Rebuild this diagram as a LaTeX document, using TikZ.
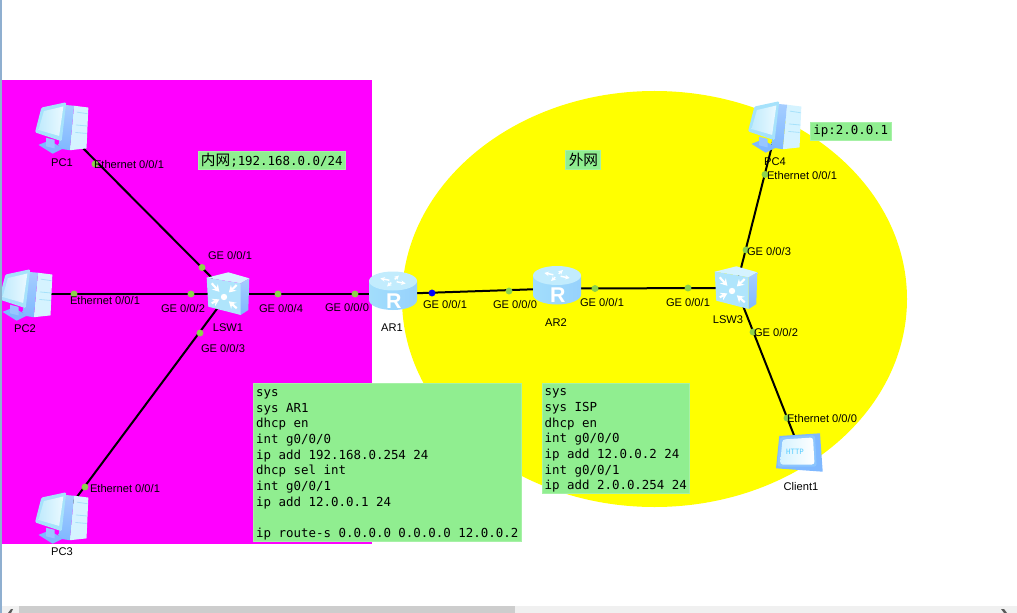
\documentclass[tikz,border=0pt]{standalone}
\usepackage{fontspec}
\setmainfont{Liberation Sans}
\newfontfamily\cfgfont{DejaVu Sans Mono}
\newfontfamily\cjkfont{Noto Sans CJK SC}
\usetikzlibrary{
  arrows.meta,              % 交换机图标的箭头
  calc                      % 坐标计算
}
\definecolor{lanpink}{RGB}{255,0,255}
\definecolor{wanyellow}{RGB}{255,255,0}
\definecolor{portgreen}{HTML}{8CD24A}
\definecolor{portblue}{RGB}{0,0,255}
\definecolor{boxgreen}{HTML}{90EE90}
\definecolor{iconlight}{HTML}{D5F3FF}
\definecolor{iconmid}{HTML}{A6E2FB}
\definecolor{icondark}{HTML}{7FB8FF}
\definecolor{barlight}{HTML}{F0F0F0}
\definecolor{bardark}{HTML}{CDCDCD}
\definecolor{edgeblue}{HTML}{8FAFD0}
\tikzset{
  device/.style={
    rectangle,
    inner sep=0pt,
    minimum size=15pt
  },
  link/.style={
    draw=black,
    line width=1.5pt
  },
  port dot/.style={
    circle,
    fill=portgreen,
    inner sep=0pt,
    minimum size=5.2pt
  },
  port label/.style={
    font=\fontsize{8.35}{10}\selectfont,
    color=black,
    inner sep=0pt,
    yshift=-0.5pt
  },
  note box/.style={
    fill=boxgreen,
    draw=boxgreen!80!white,
    line width=0.4pt,
    anchor=north west,
    inner sep=0pt,
    font=\fontsize{9.33}{11.75}\cfgfont
  },
  pc icon/.pic={
    \begin{scope}[shift={(0,-1)}, x=0.8pt, y=-0.8pt]
      \fill[iconlight] (11.3,-19) -- (24.7,-17.3) -- (23,21) -- (7.3,22.7) -- cycle;
      \shade[top color=icondark!70!white, bottom color=icondark] (3,-19.7) -- (11.3,-19) -- (7.3,22.7) -- (-3.7,21) -- cycle;
      \draw[iconmid, line width=0.6pt] (14,-13) -- (24,-11.5) (13,-1) -- (23.5,0) (12.5,6) -- (23,7);
      \fill[icondark] (-22,17.7) -- (-12,13.7) -- (1.3,21) -- (-8.7,26) -- cycle;
      \fill[icondark!80!white] (-15,11) -- (-7,13) -- (-7,21) -- (-15,19) -- cycle;
      \fill[iconmid, rounded corners=1pt] (-19.3,-17.3) -- (4,-22.3) -- (-0.3,14.3) -- (-25.3,6) -- cycle;
      \shade[left color=iconmid!70!white, right color=iconlight!50!white] (-17,-14) -- (1.3,-18.3) -- (-2.7,9.3) -- (-22,3.7) -- cycle;
    \end{scope}
  },
  router icon/.pic={
    \shade[left color=iconmid!90!icondark, middle color=iconmid!70!white, right color=iconmid!60!icondark] (-24,-13) -- (-24,6) arc[start angle=180, end angle=360, x radius=24, y radius=-10] -- (24,-13) -- cycle;
    \fill[iconmid!40!iconlight] (0,-13) ellipse[x radius=24, y radius=9.5];
    \foreach \a in {25,115,205,295}{
      \draw[white, line width=1.1pt, -{Stealth[length=3.5pt, width=3.5pt]}] ([shift={(\a:4 and 1.8)}]0,-13) -- ([shift={(\a:14 and 6)}]0,-13);
    }
    \node[font=\fontsize{16}{16}\bfseries\selectfont, color=white, inner sep=0pt] (letter) at (0.7,7) {R};
  },
  switch icon/.pic={
    \fill[iconlight] (-21.3,-16.3) -- (0.3,-21.7) -- (21.3,-15.7) -- (12.7,-10.7) -- cycle;
    \shade[top color=icondark!70!white, bottom color=icondark] (12.7,-10.7) -- (21.3,-15.7) -- (20.3,16) -- (12.7,21) -- cycle;
    \fill[iconmid!80!iconlight] (-21.3,-16.3) -- (12.7,-10.7) -- (12.7,21) -- (-19.7,12.7) -- cycle;
    \fill[white] (-4,3) circle[radius=3.2];
    \foreach \sx/\sy in {-16.3/-10.7, 8.7/-9, -16.3/9.3, 8.7/14.3}{
      \draw[white, line width=1.6pt, -{Stealth[length=5pt, width=6pt]}] (\sx,\sy) -- ($(\sx,\sy)!0.62!(-4,3)$);
    }
  },
  client icon/.pic={
    \fill[icondark] (-21.7,-17) -- (19,-19.7) -- (21.7,18.7) -- (-25,15.3) -- cycle;
    \fill[icondark!70!iconmid, rounded corners=2pt] (-21,-15.7) -- (14,-18) -- (15.7,13.7) -- (-23.7,13.7) -- cycle;
    \shade[left color=iconlight, right color=white, rounded corners=2pt] (-18.5,-13.5) -- (12,-15.5) -- (13.5,11.5) -- (-21,11.5) -- cycle;
    \node[font=\fontsize{5.5}{6}\cfgfont, color=icondark!70!cyan, inner sep=0pt] (word) at (-6,-1.3) {HTTP};
  }
}

\begin{document}
\begin{tikzpicture}[x=0.75pt, y=-0.75pt]
    \useasboundingbox (0,0) rectangle (1017,613);

    % 1. 背景区域
    \fill[lanpink] (2,80) rectangle (372,544);
    \fill[wanyellow] (654.5,299) ellipse[x radius=252.5, y radius=208];

    % 2. 设备节点
    \node[device] (PC1) at (62,127) {};
    \node[device] (PC2) at (26,294) {};
    \node[device] (PC3) at (62,517) {};
    \node[device] (PC4) at (777,126) {};
    \node[device] (LSW1) at (228,294) {};
    \node[device] (LSW3) at (736,288) {};
    \node[device] (AR1) at (393,294) {};
    \node[device] (AR2) at (557,288.5) {};
    \node[device] (Client1) at (801,453) {};

    % 3. 连线
    \draw[link] (PC1) -- (LSW1);
    \draw[link] (PC2) -- (LSW1);
    \draw[link] (PC3) -- (LSW1);
    \draw[link] (LSW1) -- (AR1);
    \draw[link] (AR1) -- (AR2);
    \draw[link] (AR2) -- (LSW3);
    \draw[link] (LSW3) -- (PC4);
    \draw[link] (LSW3) -- (Client1);

    % 4. 端口圆点
    \node[port dot] (p1) at (95,164) {};
    \node[port dot] (p2) at (202,267.5) {};
    \node[port dot] (p3) at (74,294) {};
    \node[port dot] (p4) at (191,294) {};
    \node[port dot] (p5) at (200,333) {};
    \node[port dot] (p6) at (85,487) {};
    \node[port dot] (p7) at (278,294) {};
    \node[port dot] (p8) at (355,294) {};
    \node[port dot, fill=portblue] (p9) at (432,293) {};
    \node[port dot] (p10) at (509,291) {};
    \node[port dot] (p11) at (595,288.5) {};
    \node[port dot] (p12) at (688,288) {};
    \node[port dot] (p13) at (746,250) {};
    \node[port dot] (p14) at (765,174.5) {};
    \node[port dot] (p15) at (753,332) {};
    \node[port dot] (p16) at (787,418) {};

    % 5. 设备图标
    \pic at (PC1) {pc icon};
    \pic at (PC2) {pc icon};
    \pic at (PC3) {pc icon};
    \pic at (775,126) {pc icon};
    \pic at (LSW1) {switch icon};
    \pic at (LSW3) {switch icon};
    \pic at (AR1) {router icon};
    \pic at (AR2) {router icon};
    \pic at (Client1) {client icon};

    % 6. 设备名称
    \node[port label] (nPC1) at (62,162) {PC1};
    \node[port label] (nPC2) at (25,328) {PC2};
    \node[port label] (nPC3) at (62,551) {PC3};
    \node[port label] (nPC4) at (775,161) {PC4};
    \node[port label] (nLSW1) at (228,327) {LSW1};
    \node[port label] (nLSW3) at (728,319) {LSW3};
    \node[port label] (nAR1) at (392,327) {AR1};
    \node[port label] (nAR2) at (556,322) {AR2};
    \node[port label] (nClient1) at (801,486) {Client1};

    % 7. 端口标签
    \node[port label] (l1) at (129,164) {Ethernet 0/0/1};
    \node[port label] (l2) at (230,255) {GE 0/0/1};
    \node[port label] (l3) at (105,300) {Ethernet 0/0/1};
    \node[port label] (l4) at (183,308) {GE 0/0/2};
    \node[port label] (l5) at (223,348) {GE 0/0/3};
    \node[port label] (l6) at (125,488) {Ethernet 0/0/1};
    \node[port label] (l7) at (281,308) {GE 0/0/4};
    \node[port label] (l8) at (347,307) {GE 0/0/0};
    \node[port label] (l9) at (445,304) {GE 0/0/1};
    \node[port label] (l10) at (515,304) {GE 0/0/0};
    \node[port label] (l11) at (602,302) {GE 0/0/1};
    \node[port label] (l12) at (688,302) {GE 0/0/1};
    \node[port label] (l13) at (769,251) {GE 0/0/3};
    \node[port label] (l14) at (802,175) {Ethernet 0/0/1};
    \node[port label] (l15) at (776,332) {GE 0/0/2};
    \node[port label] (l16) at (822,418) {Ethernet 0/0/0};

    % 8. 说明文字
    \node[note box, minimum width=110.25pt, minimum height=13.5pt] (inner) at (198,151) {{\cjkfont\fontsize{11}{12}\selectfont 内网};192.168.0.0/24};
    \node[note box, minimum width=26.25pt, minimum height=14.25pt] (outer) at (565,150) {\hspace{1pt}{\cjkfont\fontsize{11}{12}\selectfont 外网}};
    \node[note box, minimum width=60.75pt, minimum height=13.5pt] (ip4) at (810,122) {ip:2.0.0.1};
    \node[note box, minimum width=201pt, minimum height=118.5pt, align=left] (cfg1) at (253,383) {\rule{0pt}{9pt}sys\\sys AR1\\dhcp en\\int g0/0/0\\ip add 192.168.0.254 24\\dhcp sel int\\int g0/0/1\\ip add 12.0.0.1 24\\~\\ip route-s 0.0.0.0 0.0.0.0 12.0.0.2};
    \node[note box, minimum width=110.25pt, minimum height=82.5pt, align=left] (cfg2) at (542,383) {\rule{0pt}{9pt}sys\\sys ISP\\dhcp en\\int g0/0/0\\ip add 12.0.0.2 24\\int g0/0/1\\ip add 2.0.0.254 24};

    % 9. 窗口边框与滚动条
    \fill[edgeblue] (0,0) rectangle (2,613);
    \fill[barlight] (2,606) rectangle (1017,613);
    \fill[bardark] (19,606) rectangle (515,613);
    \fill[black!65] (8,613) -- (11,609) -- (13,609) -- (11,613) -- cycle;
    \fill[black!65] (1001,609) -- (1004,609) -- (1007,613) -- (1004,613) -- cycle;
\end{tikzpicture}
\end{document}
